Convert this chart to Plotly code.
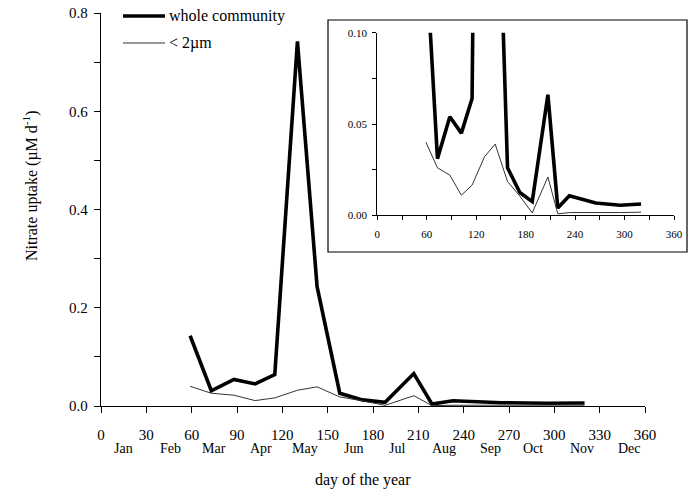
import plotly.graph_objects as go

days = [59, 73, 88, 102, 115, 130, 143, 158, 173, 188, 207, 219, 233, 265, 295, 320]
whole = [0.143, 0.031, 0.054, 0.045, 0.064, 0.742, 0.243, 0.026, 0.0125, 0.0075,
         0.066, 0.004, 0.0107, 0.0067, 0.0055, 0.0062]
small = [0.040, 0.026, 0.022, 0.011, 0.0165, 0.032, 0.039, 0.0185, 0.0105, 0.0013,
         0.021, 0.0008, 0.0015, 0.0013, 0.0015, 0.0017]
months = ["Jan", "Feb", "Mar", "Apr", "May", "Jun", "Jul", "Aug", "Sep", "Oct", "Nov", "Dec"]
month_mid = [15, 46, 75, 106, 135, 167, 196, 227, 258, 286, 318, 350]
series_names = ["whole community", "< 2\u00b5m"]

FONT = "Liberation Serif"
W, H = 696, 491
L, R, T, B = 101, 18, 13, 85
PW, PH = W - L - R, H - T - B

def px_x(p):
    return (p - L) / PW

def px_y(p):
    return (H - B - p) / PH

fig = go.Figure()
for ax in ["", "2"]:
    fig.add_trace(go.Scatter(x=days, y=whole, mode="lines", xaxis="x" + ax, yaxis="y" + ax,
                             line=dict(color="black", width=3.6), showlegend=False))
    fig.add_trace(go.Scatter(x=days, y=small, mode="lines", xaxis="x" + ax, yaxis="y" + ax,
                             line=dict(color="#333333", width=1), showlegend=False))

axis_common = dict(showgrid=False, zeroline=False, showline=True, linecolor="black",
                   ticks="outside", tickcolor="black", automargin=False)

fig.update_layout(
    width=W, height=H, margin=dict(l=L, r=R, t=T, b=B, autoexpand=False),
    paper_bgcolor="white", plot_bgcolor="rgba(0,0,0,0)",
    font=dict(family=FONT, color="black"),
    xaxis=dict(domain=[0, px_x(645)], range=[0, 360], tickvals=list(range(0, 361, 30)),
               ticklen=6, tickwidth=1.3, linewidth=1.3,
               tickfont=dict(size=15, family=FONT), ticklabelstandoff=9, anchor="y",
               **axis_common),
    yaxis=dict(domain=[0, 1], range=[0, 0.8], tickvals=[0, 0.2, 0.4, 0.6, 0.8],
               tickformat=".1f", ticklen=6, tickwidth=1.3, linewidth=1.3,
               tickfont=dict(size=15, family=FONT), ticklabelstandoff=3,
               minor=dict(dtick=0.1, ticks="outside", ticklen=6, tickcolor="black", tickwidth=1.3),
               anchor="x", **axis_common),
    xaxis2=dict(domain=[px_x(377.3), px_x(674)], range=[0, 360], tickvals=list(range(0, 361, 60)),
                ticklen=4, tickwidth=1.1, linewidth=1.1,
                tickfont=dict(size=11, family=FONT), ticklabelstandoff=4, anchor="y2",
                minor=dict(dtick=30, ticks="outside", ticklen=4, tickcolor="black", tickwidth=1.1),
                **axis_common),
    yaxis2=dict(domain=[px_y(215.3), px_y(32.7)], range=[0, 0.1], tickvals=[0, 0.05, 0.1],
                tickformat=".2f", ticklen=4, tickwidth=1.1, linewidth=1.1,
                tickfont=dict(size=11, family=FONT), ticklabelstandoff=3,
                anchor="x2",
                minor=dict(dtick=0.025, ticks="outside", ticklen=4, tickcolor="black", tickwidth=1.1),
                **axis_common),
)

# inset box
fig.add_shape(type="rect", xref="paper", yref="paper",
              x0=px_x(328), x1=px_x(687), y0=px_y(252), y1=px_y(20),
              line=dict(color="black", width=1.2), fillcolor="rgba(0,0,0,0)", layer="below")

# month labels
for m, d in zip(months, month_mid):
    fig.add_annotation(x=d, y=px_y(448), xref="x", yref="paper", text=m, showarrow=False,
                       font=dict(size=14, family=FONT), xanchor="center", yanchor="middle")

# axis titles
fig.add_annotation(x=px_x(363), y=px_y(480), xref="paper", yref="paper", text="day of the year",
                   showarrow=False, font=dict(size=16, family=FONT), xanchor="center", yanchor="middle")
fig.add_annotation(x=px_x(30), y=px_y(186), xref="paper", yref="paper",
                   text="Nitrate uptake (\u00b5M d<sup>-1</sup>)", textangle=-90,
                   showarrow=False, font=dict(size=16, family=FONT), xanchor="center", yanchor="middle")

# legend
leg_y = [16, 43]
leg_w = [3.6, 1]
leg_c = ["black", "#333333"]
for name, yy, lw, lc in zip(series_names, leg_y, leg_w, leg_c):
    fig.add_shape(type="line", xref="paper", yref="paper", x0=px_x(123), x1=px_x(165),
                  y0=px_y(yy), y1=px_y(yy), line=dict(color=lc, width=lw))
    fig.add_annotation(x=px_x(167), y=px_y(yy), xref="paper", yref="paper", text=name,
                       showarrow=False, font=dict(size=16, family=FONT), xanchor="left", yanchor="middle")

fig.write_html("out.html")
